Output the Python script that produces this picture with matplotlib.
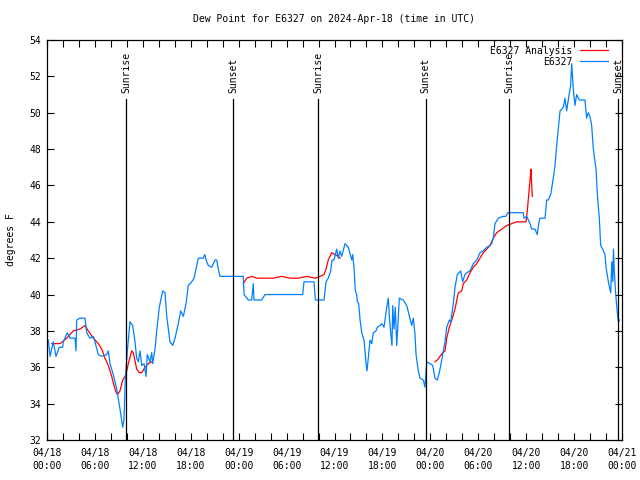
import matplotlib
matplotlib.use("Agg")
import matplotlib.pyplot as plt
import numpy as np
from matplotlib.ticker import MultipleLocator

plt.rcParams["font.family"] = ["DejaVu Sans Mono"]

# hours since 2024-04-18 00:00 UTC
obs_hours = [0.16, 0.38, 0.79, 1.13, 1.54, 1.96, 2.04, 2.54, 2.88, 3.51, 3.63, 3.72, 4.13,
             4.76, 4.97, 5.38, 5.80, 6.01, 6.42, 6.85, 7.48, 7.68, 7.89, 8.30, 8.73, 9.14,
             9.48, 9.64, 9.80, 10.06, 10.39, 10.73, 11.02, 11.23, 11.43, 11.65, 11.86, 12.15,
             12.40, 12.56, 12.90, 13.11, 13.24, 13.52, 13.74, 14.06, 14.49, 14.78, 14.99,
             15.40, 15.74, 16.03, 16.44, 16.74, 17.07, 17.41, 17.69, 18.12, 18.41, 18.75,
             18.95, 19.57, 19.75, 20.00, 20.20, 20.62, 21.04, 21.25, 21.45, 21.66, 24.58,
             24.67, 25.21, 25.63, 25.83, 25.92, 26.88, 27.30, 32.02, 32.18, 33.43, 33.60,
             34.69, 34.94, 35.22, 35.52, 35.69, 35.94, 36.28, 36.48, 36.69, 36.90, 37.32,
             37.73, 38.16, 38.28, 38.44, 38.61, 38.78, 38.86, 39.03, 39.20, 39.41, 39.70,
             39.95, 40.07, 40.23, 40.45, 40.66, 40.86, 41.20, 41.36, 41.70, 41.91, 42.20,
             42.54, 42.74, 42.86, 43.04, 43.20, 43.29, 43.45, 43.61, 43.79, 43.95, 44.11,
             44.61, 45.04, 45.45, 45.67, 45.87, 46.08, 46.21, 46.49, 46.71, 47.12, 47.33,
             47.55, 47.96, 48.30, 48.59, 48.87, 49.12, 49.30, 49.55, 49.84, 50.05, 50.38,
             50.55, 50.88, 51.09, 51.38, 51.80, 52.05, 52.34, 52.55, 52.97, 53.38, 53.81,
             54.22, 54.63, 55.06, 55.47, 55.68, 55.88, 56.10, 56.51, 57.14, 57.47, 57.69,
             59.64, 59.73, 60.07, 60.48, 60.69, 61.10, 61.39, 61.57, 61.73, 62.36, 62.57,
             62.77, 63.07, 63.40, 63.61, 63.82, 64.02, 64.24, 64.65, 64.86, 65.07, 65.27,
             65.57, 65.70, 65.90, 66.11, 66.32, 66.65, 67.36, 67.57, 67.77, 67.99, 68.20,
             68.41, 68.75, 68.91, 69.16, 69.33, 69.58, 69.87, 70.00, 70.29, 70.59, 70.72,
             70.85, 70.93, 71.05, 71.18, 71.35, 71.43, 71.56, 71.69]
obs_dewpt = [37.5, 36.6, 37.4, 36.6, 37.1, 37.1, 37.4, 37.9, 37.6, 37.6, 36.9, 38.6, 38.7,
             38.7, 37.9, 37.6, 37.7, 37.4, 36.7, 36.6, 36.7, 36.9, 36.2, 35.6, 34.8, 33.7,
             32.7, 33.1, 35.3, 36.9, 38.5, 38.3, 37.4, 36.5, 36.3, 36.9, 36.1, 36.2,
             35.5, 36.7, 36.3, 36.8, 36.2, 37.0, 38.0, 39.3, 40.2, 40.1, 38.8,
             37.4, 37.2, 37.6, 38.4, 39.1, 38.8, 39.5, 40.5, 40.7, 40.9, 41.6,
             42.0, 42.0, 42.2, 41.8, 41.6, 41.5, 41.9, 41.9, 41.4, 41.0, 41.0,
             40.0, 39.7, 39.7, 40.6, 39.7, 39.7, 40.0, 40.0, 40.7, 40.7, 39.7,
             39.7, 40.7, 40.9, 41.3, 41.9, 41.9, 42.5, 42.0, 42.4, 42.1, 42.8,
             42.6, 41.9, 42.2, 41.5, 40.2, 40.0, 39.6, 39.5, 38.6, 37.9, 37.5,
             36.2, 35.8, 36.5, 37.5, 37.3, 37.9, 38.0, 38.2, 38.3, 38.4, 38.2,
             39.3, 39.8, 38.8, 37.9, 37.2, 39.4, 38.1, 39.3, 37.2, 38.4, 39.8,
             39.7, 39.4, 38.7, 38.3, 38.7, 37.8, 36.7, 35.8, 35.4, 35.3, 34.9,
             36.3, 36.2, 36.1, 35.4, 35.3, 35.7, 36.1, 36.7, 37.4, 38.2, 38.6,
             38.5, 39.5, 40.4, 41.1, 41.3, 40.7, 41.1, 41.2, 41.3, 41.7, 41.9,
             42.3, 42.4, 42.6, 42.7, 42.8, 43.1, 43.9, 44.2, 44.3, 44.3, 44.5,
             44.5, 44.2, 44.3, 43.9, 43.6, 43.6, 43.3, 43.9, 44.2, 44.2, 45.2,
             45.2, 45.5, 46.4, 47.1, 48.2, 49.1, 50.1, 50.3, 50.8, 50.1, 50.7,
             51.5, 52.7, 51.3, 50.4, 51.0, 50.7, 50.7, 49.7, 50.0, 49.8, 49.3,
             48.0, 46.9, 45.5, 44.2, 42.7, 42.5, 42.2, 41.5, 40.7, 40.1, 41.8,
             40.7, 42.5, 41.2, 40.2, 39.3, 38.9, 38.5, 38.6]

# analysis series; NaN marks gaps
ana_hours = [0.59, 1.63, 2.47, 3.29, 4.13, 4.76, 5.17, 5.80, 6.42, 6.85, 7.26, 7.68, 8.10,
             8.51, 8.80, 9.14, 9.48, 9.89, 10.18, 10.61, 10.81, 11.23, 11.56, 11.86, 12.27,
             12.68, 13.1, 13.2,
             24.58, 25.00, 25.63, 26.26, 27.51, 28.34, 29.39, 30.43, 31.47, 32.52, 33.56,
             34.19, 34.69, 34.94, 35.22, 35.65, 36.06, 36.48, 36.69, 36.8,
             48.59, 48.87, 49.21, 49.55, 49.84, 50.05, 50.38, 50.68, 51.09, 51.50, 51.92,
             52.13, 52.55, 52.97, 53.38, 53.81, 54.22, 54.63, 55.06, 55.47, 55.88, 56.31,
             56.94, 57.56, 58.19, 58.82, 59.98, 60.14, 60.32, 60.48, 60.61, 60.65, 60.77]
ana_dewpt = [37.3, 37.3, 37.6, 38.0, 38.1, 38.3, 38.0, 37.6, 37.3, 37.0, 36.5, 36.1, 35.5,
             34.8, 34.5, 34.7, 35.3, 35.6, 36.2, 36.9, 36.8, 35.9, 35.7, 35.7, 36.0,
             36.2, 36.3, np.nan,
             40.6, 40.9, 41.0, 40.9, 40.9, 40.9, 41.0, 40.9, 40.9, 41.0, 40.9,
             41.0, 41.1, 41.4, 41.9, 42.3, 42.2, 42.1, 42.0, np.nan,
             36.3, 36.4, 36.6, 36.8, 36.9, 37.6, 38.2, 38.6, 39.2, 40.1, 40.2,
             40.6, 40.8, 41.2, 41.5, 41.7, 42.0, 42.3, 42.5, 42.7, 43.1, 43.4,
             43.6, 43.8, 43.9, 44.0, 44.0, 44.6, 45.5, 46.3, 46.9, 46.4, 45.4]

sun_hours = [9.89, 23.35, 33.93, 47.40, 57.85, 71.50]
sun_labels = ["Sunrise", "Sunset", "Sunrise", "Sunset", "Sunrise", "Sunset"]

tick_hours = list(range(0, 73, 6))
tick_labels = ["04/18\n00:00", "04/18\n06:00", "04/18\n12:00", "04/18\n18:00",
               "04/19\n00:00", "04/19\n06:00", "04/19\n12:00", "04/19\n18:00",
               "04/20\n00:00", "04/20\n06:00", "04/20\n12:00", "04/20\n18:00",
               "04/21\n00:00"]

fig = plt.figure(figsize=(6.4, 4.8), dpi=100)
ax = fig.add_axes([47 / 640, 40 / 480, 575 / 640, 400 / 480])

ax.plot(ana_hours, ana_dewpt, color="#ff0000", lw=0.9, label="E6327 Analysis")
ax.plot(obs_hours, obs_dewpt, color="#0080ff", lw=0.9, label="E6327")

# sunrise / sunset markers
for h, lab in zip(sun_hours, sun_labels):
    ax.plot([h, h], [0, 0.8525], color="black", lw=0.9,
            transform=ax.get_xaxis_transform())
    ax.text(h, 0.8675, lab, rotation=90, ha="center", va="bottom", fontsize=7,
            transform=ax.get_xaxis_transform())

ax.set_xlim(0, 72)
ax.set_ylim(32, 54)
ax.set_xticks(tick_hours)
ax.set_xticklabels(tick_labels, linespacing=1.35)
ax.xaxis.set_minor_locator(MultipleLocator(2))
ax.yaxis.set_major_locator(MultipleLocator(2))
ax.tick_params(which="both", direction="in", top=True, right=True, length=5,
               width=0.8, labelsize=7, pad=4)
ax.tick_params(axis="x", which="both", pad=6)
for s in ax.spines.values():
    s.set_linewidth(0.9)

ax.set_ylabel("degrees F", fontsize=7, labelpad=10)
fig.text(334 / 640, 1 - 19 / 480, "Dew Point for E6327 on 2024-Apr-18 (time in UTC)",
         ha="center", va="center", fontsize=7)

ax.legend(loc="upper right", bbox_to_anchor=(1 - 8 / 575, 1), frameon=False,
          markerfirst=False, fontsize=7, handlelength=2.9, borderaxespad=0.2,
          labelspacing=0.1, handletextpad=0.8)

fig.savefig("out.png", dpi=100)
